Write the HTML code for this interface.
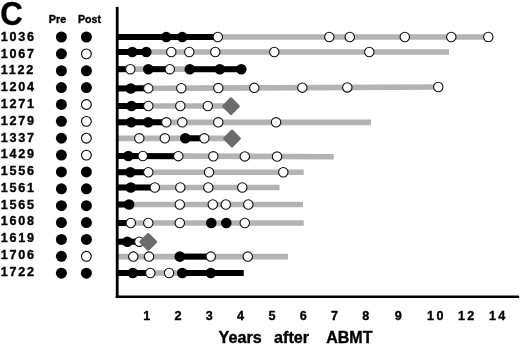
<!DOCTYPE html>
<html><head><meta charset="utf-8"><title>C</title>
<style>
html,body{margin:0;padding:0;background:#fff;}
body{width:520px;height:345px;overflow:hidden;font-family:"Liberation Sans",sans-serif;}
svg{display:block;}
svg{filter:grayscale(1);}
text{font-family:"Liberation Sans",sans-serif;font-weight:bold;fill:#000;stroke:#000;stroke-width:0.35;}
</style></head><body>
<svg width="520" height="345" viewBox="0 0 520 345">
<rect width="520" height="345" fill="#fff"/>
<polygon points="117,34.15 488,34.15 488,39.85 117,39.85" fill="#b3b3b3"/>
<polygon points="117,34.00 217.5,34.00 217.5,40.00 117,40.00" fill="#000"/>
<polygon points="117,49.15 449,49.15 449,54.85 117,54.85" fill="#b3b3b3"/>
<polygon points="117,49.00 146,49.00 146,55.00 117,55.00" fill="#000"/>
<polygon points="117,66.35 241,66.35 241,72.05 117,72.05" fill="#b3b3b3"/>
<polygon points="117,66.20 130,66.20 130,72.20 117,72.20" fill="#000"/>
<polygon points="148,66.20 169.5,66.20 169.5,72.20 148,72.20" fill="#000"/>
<polygon points="189.5,66.20 241,66.20 241,72.20 189.5,72.20" fill="#000"/>
<polygon points="117,85.65 438,84.14 438,89.84 117,91.35" fill="#b3b3b3"/>
<polygon points="117,85.50 148,85.35 148,91.35 117,91.50" fill="#000"/>
<polygon points="117,103.15 231,103.15 231,108.85 117,108.85" fill="#b3b3b3"/>
<polygon points="117,103.00 148,103.00 148,109.00 117,109.00" fill="#000"/>
<polygon points="117,119.45 371,119.45 371,125.15 117,125.15" fill="#b3b3b3"/>
<polygon points="117,119.30 166,119.30 166,125.30 117,125.30" fill="#000"/>
<polygon points="117,135.45 232,135.45 232,141.15 117,141.15" fill="#b3b3b3"/>
<polygon points="185,135.30 204,135.30 204,141.30 185,141.30" fill="#000"/>
<polygon points="117,153.05 333.75,153.92 333.75,159.62 117,158.75" fill="#b3b3b3"/>
<polygon points="117,152.90 178,153.14 178,159.14 117,158.90" fill="#000"/>
<polygon points="117,169.40 303.75,169.40 303.75,175.10 117,175.10" fill="#b3b3b3"/>
<polygon points="117,169.25 148,169.25 148,175.25 117,175.25" fill="#000"/>
<polygon points="117,184.65 279.5,184.65 279.5,190.35 117,190.35" fill="#b3b3b3"/>
<polygon points="117,184.50 154.5,184.50 154.5,190.50 117,190.50" fill="#000"/>
<polygon points="117,201.65 303,201.65 303,207.35 117,207.35" fill="#b3b3b3"/>
<polygon points="117,201.50 128.75,201.50 128.75,207.50 117,207.50" fill="#000"/>
<polygon points="117,220.15 303.75,220.15 303.75,225.85 117,225.85" fill="#b3b3b3"/>
<polygon points="117,220.00 130.5,220.00 130.5,226.00 117,226.00" fill="#000"/>
<polygon points="117,238.85 148,238.85 148,244.55 117,244.55" fill="#b3b3b3"/>
<polygon points="117,238.70 139,238.70 139,244.70 117,244.70" fill="#000"/>
<polygon points="117,253.75 288,253.75 288,259.45 117,259.45" fill="#b3b3b3"/>
<polygon points="179.5,253.60 210.5,253.60 210.5,259.60 179.5,259.60" fill="#000"/>
<polygon points="117,270.00 150,270.00 150,276.00 117,276.00" fill="#000"/>
<polygon points="150,270.15 182,270.15 182,275.85 150,275.85" fill="#b3b3b3"/>
<polygon points="182,270.00 243.75,270.00 243.75,276.00 182,276.00" fill="#000"/>
<rect x="115.8" y="6.9" width="2.8" height="291.2" fill="#000"/>
<rect x="115.8" y="295.4" width="403.4" height="2.7" rx="0.8" fill="#000"/>
<circle cx="166.3" cy="37.00" r="5.3" fill="#000"/>
<circle cx="182.3" cy="37.00" r="5.3" fill="#000"/>
<circle cx="217.8" cy="37.00" r="4.7" fill="#fff" stroke="#111" stroke-width="1.1"/>
<circle cx="329.3" cy="37.00" r="4.7" fill="#fff" stroke="#111" stroke-width="1.1"/>
<circle cx="349.8" cy="37.00" r="4.7" fill="#fff" stroke="#111" stroke-width="1.1"/>
<circle cx="404.8" cy="37.00" r="4.7" fill="#fff" stroke="#111" stroke-width="1.1"/>
<circle cx="451.3" cy="37.00" r="4.7" fill="#fff" stroke="#111" stroke-width="1.1"/>
<circle cx="488.3" cy="37.00" r="4.7" fill="#fff" stroke="#111" stroke-width="1.1"/>
<circle cx="61.4" cy="37.00" r="5.5" fill="#000"/>
<circle cx="86.4" cy="37.00" r="5.5" fill="#000"/>
<text x="0.7" y="40.85" font-size="12.6" letter-spacing="1.75">1036</text>
<circle cx="132.3" cy="52.00" r="5.3" fill="#000"/>
<circle cx="146.3" cy="52.00" r="5.3" fill="#000"/>
<circle cx="171.3" cy="52.00" r="4.7" fill="#fff" stroke="#111" stroke-width="1.1"/>
<circle cx="189.3" cy="52.00" r="4.7" fill="#fff" stroke="#111" stroke-width="1.1"/>
<circle cx="215.3" cy="52.00" r="4.7" fill="#fff" stroke="#111" stroke-width="1.1"/>
<circle cx="274.3" cy="52.00" r="4.7" fill="#fff" stroke="#111" stroke-width="1.1"/>
<circle cx="369.3" cy="52.00" r="4.7" fill="#fff" stroke="#111" stroke-width="1.1"/>
<circle cx="61.4" cy="53.87" r="5.5" fill="#000"/>
<circle cx="86.4" cy="53.87" r="4.9" fill="#fff" stroke="#000" stroke-width="1.1"/>
<text x="0.7" y="57.63" font-size="12.6" letter-spacing="1.75">1067</text>
<circle cx="130.3" cy="69.20" r="4.7" fill="#fff" stroke="#111" stroke-width="1.1"/>
<circle cx="148.3" cy="69.20" r="5.3" fill="#000"/>
<circle cx="169.8" cy="69.20" r="4.7" fill="#fff" stroke="#111" stroke-width="1.1"/>
<circle cx="189.8" cy="69.20" r="5.3" fill="#000"/>
<circle cx="219.8" cy="69.20" r="5.3" fill="#000"/>
<circle cx="241.3" cy="69.20" r="5.3" fill="#000"/>
<circle cx="61.4" cy="70.74" r="5.5" fill="#000"/>
<circle cx="86.4" cy="70.74" r="5.5" fill="#000"/>
<text x="0.7" y="74.41" font-size="12.6" letter-spacing="1.75">1122</text>
<circle cx="130.8" cy="88.44" r="5.3" fill="#000"/>
<circle cx="148.3" cy="88.35" r="4.7" fill="#fff" stroke="#111" stroke-width="1.1"/>
<circle cx="181.3" cy="88.20" r="4.7" fill="#fff" stroke="#111" stroke-width="1.1"/>
<circle cx="218.3" cy="88.03" r="4.7" fill="#fff" stroke="#111" stroke-width="1.1"/>
<circle cx="254.3" cy="87.86" r="4.7" fill="#fff" stroke="#111" stroke-width="1.1"/>
<circle cx="302.3" cy="87.63" r="4.7" fill="#fff" stroke="#111" stroke-width="1.1"/>
<circle cx="347.3" cy="87.42" r="4.7" fill="#fff" stroke="#111" stroke-width="1.1"/>
<circle cx="438.3" cy="86.99" r="4.7" fill="#fff" stroke="#111" stroke-width="1.1"/>
<circle cx="61.4" cy="87.61" r="5.5" fill="#000"/>
<circle cx="86.4" cy="87.61" r="5.5" fill="#000"/>
<text x="0.7" y="91.19" font-size="12.6" letter-spacing="1.75">1204</text>
<circle cx="131.5" cy="106.00" r="5.3" fill="#000"/>
<circle cx="148.3" cy="106.00" r="4.7" fill="#fff" stroke="#111" stroke-width="1.1"/>
<circle cx="180.3" cy="106.00" r="4.7" fill="#fff" stroke="#111" stroke-width="1.1"/>
<circle cx="207.8" cy="106.00" r="4.7" fill="#fff" stroke="#111" stroke-width="1.1"/>
<rect x="224.3" y="99.5" width="13.4" height="13.4" rx="1.5" fill="#6b6b6b" transform="rotate(45 231 106.2)"/>
<circle cx="61.4" cy="104.48" r="5.5" fill="#000"/>
<circle cx="86.4" cy="104.48" r="4.9" fill="#fff" stroke="#000" stroke-width="1.1"/>
<text x="0.7" y="107.97" font-size="12.6" letter-spacing="1.75">1271</text>
<circle cx="131.3" cy="122.30" r="5.3" fill="#000"/>
<circle cx="148.3" cy="122.30" r="5.3" fill="#000"/>
<circle cx="166.3" cy="122.30" r="4.7" fill="#fff" stroke="#111" stroke-width="1.1"/>
<circle cx="182.3" cy="122.30" r="4.7" fill="#fff" stroke="#111" stroke-width="1.1"/>
<circle cx="218.3" cy="122.30" r="4.7" fill="#fff" stroke="#111" stroke-width="1.1"/>
<circle cx="276.05" cy="122.30" r="4.7" fill="#fff" stroke="#111" stroke-width="1.1"/>
<circle cx="61.4" cy="121.35" r="5.5" fill="#000"/>
<circle cx="86.4" cy="121.35" r="4.9" fill="#fff" stroke="#000" stroke-width="1.1"/>
<text x="0.7" y="124.75" font-size="12.6" letter-spacing="1.75">1279</text>
<circle cx="139.3" cy="138.30" r="4.7" fill="#fff" stroke="#111" stroke-width="1.1"/>
<circle cx="164.8" cy="138.30" r="4.7" fill="#fff" stroke="#111" stroke-width="1.1"/>
<circle cx="185.3" cy="138.30" r="5.3" fill="#000"/>
<circle cx="204.3" cy="138.30" r="4.7" fill="#fff" stroke="#111" stroke-width="1.1"/>
<rect x="225.3" y="131.8" width="13.4" height="13.4" rx="1.5" fill="#6b6b6b" transform="rotate(45 232 138.5)"/>
<circle cx="61.4" cy="138.22" r="5.5" fill="#000"/>
<circle cx="86.4" cy="138.22" r="4.9" fill="#fff" stroke="#000" stroke-width="1.1"/>
<text x="0.7" y="141.53" font-size="12.6" letter-spacing="1.75">1337</text>
<circle cx="128.3" cy="155.94" r="5.3" fill="#000"/>
<circle cx="142.8" cy="156.00" r="4.7" fill="#fff" stroke="#111" stroke-width="1.1"/>
<circle cx="178.3" cy="156.14" r="4.7" fill="#fff" stroke="#111" stroke-width="1.1"/>
<circle cx="213.3" cy="156.28" r="4.7" fill="#fff" stroke="#111" stroke-width="1.1"/>
<circle cx="244.8" cy="156.41" r="4.7" fill="#fff" stroke="#111" stroke-width="1.1"/>
<circle cx="277.05" cy="156.54" r="4.7" fill="#fff" stroke="#111" stroke-width="1.1"/>
<circle cx="61.4" cy="155.09" r="5.5" fill="#000"/>
<circle cx="86.4" cy="155.09" r="4.9" fill="#fff" stroke="#000" stroke-width="1.1"/>
<text x="0.7" y="158.31" font-size="12.6" letter-spacing="1.75">1429</text>
<circle cx="130.3" cy="172.25" r="5.3" fill="#000"/>
<circle cx="148.3" cy="172.25" r="4.7" fill="#fff" stroke="#111" stroke-width="1.1"/>
<circle cx="209.05" cy="172.25" r="4.7" fill="#fff" stroke="#111" stroke-width="1.1"/>
<circle cx="283.3" cy="172.25" r="4.7" fill="#fff" stroke="#111" stroke-width="1.1"/>
<circle cx="61.4" cy="171.96" r="5.5" fill="#000"/>
<circle cx="86.4" cy="171.96" r="5.5" fill="#000"/>
<text x="0.7" y="175.09" font-size="12.6" letter-spacing="1.75">1556</text>
<circle cx="130.8" cy="187.50" r="5.3" fill="#000"/>
<circle cx="154.8" cy="187.50" r="4.7" fill="#fff" stroke="#111" stroke-width="1.1"/>
<circle cx="180.3" cy="187.50" r="4.7" fill="#fff" stroke="#111" stroke-width="1.1"/>
<circle cx="208.3" cy="187.50" r="4.7" fill="#fff" stroke="#111" stroke-width="1.1"/>
<circle cx="242.3" cy="187.50" r="4.7" fill="#fff" stroke="#111" stroke-width="1.1"/>
<circle cx="61.4" cy="188.83" r="5.5" fill="#000"/>
<circle cx="86.4" cy="188.83" r="5.5" fill="#000"/>
<text x="0.7" y="191.87" font-size="12.6" letter-spacing="1.75">1561</text>
<circle cx="129.05" cy="204.50" r="5.3" fill="#000"/>
<circle cx="179.8" cy="204.50" r="4.7" fill="#fff" stroke="#111" stroke-width="1.1"/>
<circle cx="212.8" cy="204.50" r="4.7" fill="#fff" stroke="#111" stroke-width="1.1"/>
<circle cx="225.8" cy="204.50" r="4.7" fill="#fff" stroke="#111" stroke-width="1.1"/>
<circle cx="248.3" cy="204.50" r="4.7" fill="#fff" stroke="#111" stroke-width="1.1"/>
<circle cx="61.4" cy="205.70" r="5.5" fill="#000"/>
<circle cx="86.4" cy="205.70" r="5.5" fill="#000"/>
<text x="0.7" y="208.65" font-size="12.6" letter-spacing="1.75">1565</text>
<circle cx="130.8" cy="223.00" r="4.7" fill="#fff" stroke="#111" stroke-width="1.1"/>
<circle cx="148.3" cy="223.00" r="4.7" fill="#fff" stroke="#111" stroke-width="1.1"/>
<circle cx="179.8" cy="223.00" r="4.7" fill="#fff" stroke="#111" stroke-width="1.1"/>
<circle cx="211.3" cy="223.00" r="5.3" fill="#000"/>
<circle cx="226.3" cy="223.00" r="5.3" fill="#000"/>
<circle cx="244.8" cy="223.00" r="4.7" fill="#fff" stroke="#111" stroke-width="1.1"/>
<circle cx="61.4" cy="222.57" r="5.5" fill="#000"/>
<circle cx="86.4" cy="222.57" r="5.5" fill="#000"/>
<text x="0.7" y="225.43" font-size="12.6" letter-spacing="1.75">1608</text>
<circle cx="127.3" cy="241.70" r="5.3" fill="#000"/>
<circle cx="139.3" cy="241.70" r="4.7" fill="#fff" stroke="#111" stroke-width="1.1"/>
<rect x="141.5" y="235.2" width="13.4" height="13.4" rx="1.5" fill="#6b6b6b" transform="rotate(45 148.2 241.89999999999998)"/>
<circle cx="61.4" cy="239.44" r="5.5" fill="#000"/>
<circle cx="86.4" cy="239.44" r="5.5" fill="#000"/>
<text x="0.7" y="242.21" font-size="12.6" letter-spacing="1.75">1619</text>
<circle cx="133.3" cy="256.60" r="4.7" fill="#fff" stroke="#111" stroke-width="1.1"/>
<circle cx="149.05" cy="256.60" r="4.7" fill="#fff" stroke="#111" stroke-width="1.1"/>
<circle cx="179.8" cy="256.60" r="5.3" fill="#000"/>
<circle cx="210.8" cy="256.60" r="4.7" fill="#fff" stroke="#111" stroke-width="1.1"/>
<circle cx="247.8" cy="256.60" r="4.7" fill="#fff" stroke="#111" stroke-width="1.1"/>
<circle cx="61.4" cy="256.31" r="5.5" fill="#000"/>
<circle cx="86.4" cy="256.31" r="4.9" fill="#fff" stroke="#000" stroke-width="1.1"/>
<text x="0.7" y="258.99" font-size="12.6" letter-spacing="1.75">1706</text>
<circle cx="132.8" cy="273.00" r="5.3" fill="#000"/>
<circle cx="150.3" cy="273.00" r="4.7" fill="#fff" stroke="#111" stroke-width="1.1"/>
<circle cx="169.05" cy="273.00" r="4.7" fill="#fff" stroke="#111" stroke-width="1.1"/>
<circle cx="182.3" cy="273.00" r="5.3" fill="#000"/>
<circle cx="210.8" cy="273.00" r="5.3" fill="#000"/>
<circle cx="61.4" cy="273.18" r="5.5" fill="#000"/>
<circle cx="86.4" cy="273.18" r="5.5" fill="#000"/>
<text x="0.7" y="275.77" font-size="12.6" letter-spacing="1.75">1722</text>
<text x="-0.6" y="24.15" font-size="33" transform="translate(0.7 0) scale(0.945 1.02)">C</text>
<text x="48.8" y="22.6" font-size="10.8">Pre</text>
<text x="78" y="22.6" font-size="10.6">Post</text>
<text x="146.75" y="319.6" font-size="12.6" text-anchor="middle">1</text>
<text x="178" y="319.6" font-size="12.6" text-anchor="middle">2</text>
<text x="209.3" y="319.6" font-size="12.6" text-anchor="middle">3</text>
<text x="240.6" y="319.6" font-size="12.6" text-anchor="middle">4</text>
<text x="271.9" y="319.6" font-size="12.6" text-anchor="middle">5</text>
<text x="303.2" y="319.6" font-size="12.6" text-anchor="middle">6</text>
<text x="334.5" y="319.6" font-size="12.6" text-anchor="middle">7</text>
<text x="365.8" y="319.6" font-size="12.6" text-anchor="middle">8</text>
<text x="398.2" y="319.6" font-size="12.6" text-anchor="middle">9</text>
<text x="436.4" y="319.6" font-size="12.6" text-anchor="middle" letter-spacing="2.4">10</text>
<text x="467.3" y="319.6" font-size="12.6" text-anchor="middle" letter-spacing="2.4">12</text>
<text x="498.3" y="319.6" font-size="12.6" text-anchor="middle" letter-spacing="2.4">14</text>
<text x="218.6" y="343.4" font-size="16.2">Years</text>
<text x="274" y="343.4" font-size="16.2">after</text>
<text x="326.2" y="343.4" font-size="16">ABMT</text>
</svg></body></html>
